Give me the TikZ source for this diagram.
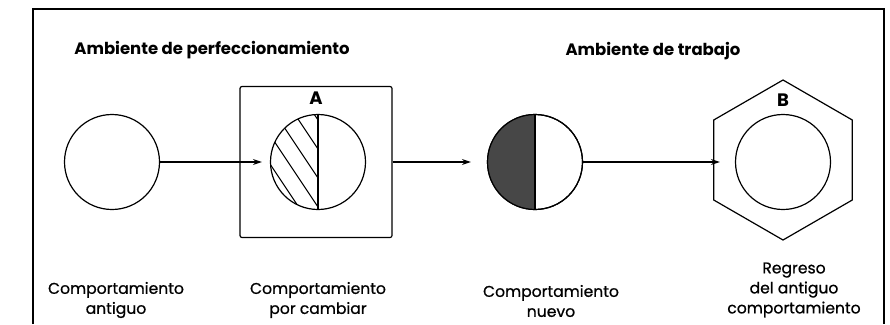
\documentclass[tikz,border=0pt]{standalone}
\usepackage{fontspec}
\setmainfont{Poppins}
\newfontfamily\capfont[FakeBold=0.7]{Poppins}
\usetikzlibrary{positioning,arrows.meta,shapes.geometric}

\tikzset{
  circ/.style={draw,circle,line width=1.2pt,minimum size=95pt,inner sep=0pt},
  flow/.style={line width=1.1pt,-{Stealth[length=9pt,width=6pt]}},
  caption/.style={align=center,font=\capfont\fontsize{15.6}{20}\selectfont},
  heading/.style={font=\bfseries\fontsize{16.5}{18}\selectfont},
  letter/.style={font=\bfseries\fontsize{18}{18}\selectfont,inner sep=0pt},
}

\begin{document}
\begin{tikzpicture}[x=1pt,y=-1pt]
  \useasboundingbox (0,0) rectangle (890,324);

  % frame, open at the bottom
  \draw[line width=1.5pt] (33,324) -- (33,9) -- (884,9) -- (884,324);

  \node[heading] (amb1) at (212,50) {Ambiente de perfeccionamiento};
  \node[heading] (amb2) at (653,51) {Ambiente de trabajo};

  % behaviours
  \node[circ] (old) at (112,162) {};
  \node[draw,line width=1.2pt,rounded corners=2pt,minimum width=152pt,minimum height=151pt] (boxA) at (316,162) {};
  \node[circ] (change) at (318,162) {};
  \node[circ] (new) at (535,162) {};
  \node[draw,line width=1.2pt,regular polygon,regular polygon sides=6,shape border rotate=30,minimum size=160pt,inner sep=0pt] (hexB) at (783,160) {};
  \node[circ] (ret) at (783,162) {};

  \node[letter] (labA) at (316,98) {A};
  \node[letter] (labB) at (783,100) {B};

  % hatching
  \begin{scope}
    \clip (change.west |- change.north) rectangle (change.south);
    \clip (change.center) circle (47.5pt);
    \foreach \y in {120,149,178,207,236}
      \draw[line width=1pt] (318,\y) -- ++(-60,-90);
  \end{scope}
  \draw[line width=1.2pt] (change.north) -- (change.south);

  % dark half
  \begin{scope}
    \clip (new.west |- new.north) rectangle (new.south);
    \fill[black!72] (new.center) circle (47.5pt);
  \end{scope}
  \draw[line width=1.2pt] (new.center) circle (47.5pt);
  \draw[line width=1.2pt] (new.north) -- (new.south);

  % arrows
  \draw[flow,shorten >=8pt] (old) -- (change);
  \draw[flow,shorten >=16pt] (boxA) -- (new);
  \draw[flow,shorten >=15pt] (new) -- (ret);

  % captions
  \node[caption] (capOld) at (116,300) {Comportamiento\\antiguo};
  \node[caption] (capChange) at (318,300) {Comportamiento\\por cambiar};
  \node[caption] (capNew) at (551,301) {Comportamiento\\nuevo};
  \node[caption] (capRet) at (794,290) {Regreso\\del antiguo\\comportamiento};
\end{tikzpicture}
\end{document}
